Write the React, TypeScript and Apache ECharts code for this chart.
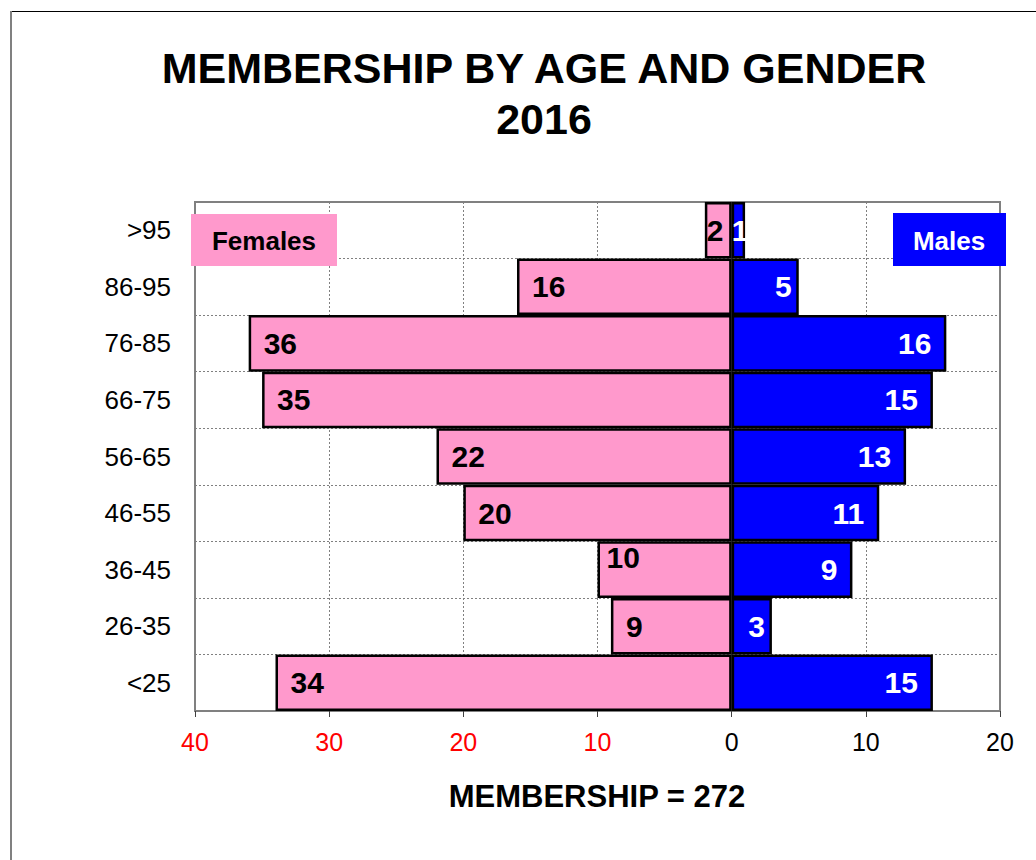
import React, { useEffect, useRef } from "react";
import * as echarts from "echarts";

const categories = [">95", "86-95", "76-85", "66-75", "56-65", "46-55", "36-45", "26-35", "<25"];
const females = [2, 16, 36, 35, 22, 20, 10, 9, 34];
const males = [1, 5, 16, 15, 13, 11, 9, 3, 15];
const xTicks = { min: -40, max: 20, interval: 10 };
const titleLines = ["MEMBERSHIP BY AGE AND GENDER", "2016"];
const footer = "MEMBERSHIP = 272";

const FONT = "'Liberation Sans', Arial, sans-serif";
const PINK = "#FF99CC";
const BLUE = "#0000FF";
const GRAY = "#808080";

const femaleLabelTweaks: Record<number, any> = {
  0: { distance: 2 },
  6: { distance: 9, offset: [0, -12] },
};
const maleLabelTweaks: Record<number, any> = {
  0: { position: "insideLeft", distance: 0 },
  1: { distance: 7 },
  7: { distance: 7 },
};

export default function App() {
  const ref = useRef<HTMLDivElement>(null);
  useEffect(() => {
    if (!ref.current) return;
    const chart = echarts.init(ref.current, null, { renderer: "svg" });
    const labelBase = {
      show: true,
      fontFamily: FONT,
      fontWeight: "bold",
      fontSize: 30,
      overflow: "none",
    };
    const centered = (text: string, x: number, y: number, size: number, fill = "#000", z = 100) => ({
      type: "text",
      x,
      y,
      z,
      style: {
        text,
        fontFamily: FONT,
        fontWeight: "bold",
        fontSize: size,
        fill,
        textAlign: "center",
        textVerticalAlign: "middle",
      },
    });
    chart.setOption({
      animation: false,
      backgroundColor: "#fff",
      grid: {
        left: 195,
        right: 36,
        top: 202,
        bottom: 149,
        show: true,
        borderColor: GRAY,
        borderWidth: 2,
        backgroundColor: "transparent",
      },
      xAxis: {
        type: "value",
        min: xTicks.min,
        max: xTicks.max,
        interval: xTicks.interval,
        axisLine: { show: true, lineStyle: { color: GRAY, width: 2 } },
        axisTick: { show: true, length: 6, lineStyle: { color: "#404040", width: 1 } },
        axisLabel: {
          margin: 18,
          fontFamily: FONT,
          fontSize: 25,
          formatter: (v: number) => (v < 0 ? `{r|${Math.abs(v)}}` : `{b|${v}}`),
          rich: {
            r: { color: "#FF0000", fontFamily: FONT, fontSize: 25 },
            b: { color: "#000000", fontFamily: FONT, fontSize: 25 },
          },
        },
        splitLine: { show: true, lineStyle: { color: GRAY, type: [2, 2], width: 1 } },
      },
      yAxis: {
        type: "category",
        data: categories,
        inverse: true,
        axisTick: { show: false },
        axisLine: { show: true, lineStyle: { color: GRAY, width: 2 } },
        axisLabel: { margin: 24, fontFamily: FONT, fontSize: 26, color: "#000" },
        splitLine: { show: true, lineStyle: { color: GRAY, type: [2, 2], width: 1 } },
      },
      series: [
        {
          name: "Females",
          type: "bar",
          stack: "total",
          barWidth: "100%",
          itemStyle: { color: PINK, borderColor: "#000", borderWidth: 2.5 },
          label: {
            ...labelBase,
            color: "#000",
            position: "insideLeft",
            distance: 15,
            formatter: (p: any) => String(Math.abs(p.value)),
          },
          data: females.map((v, i) => ({
            value: -v,
            label: femaleLabelTweaks[i],
          })),
        },
        {
          name: "Males",
          type: "bar",
          stack: "total",
          barWidth: "100%",
          itemStyle: { color: BLUE, borderColor: "#000", borderWidth: 2.5 },
          label: {
            ...labelBase,
            color: "#fff",
            position: "insideRight",
            distance: 15,
          },
          data: males.map((v, i) => ({
            value: v,
            label: maleLabelTweaks[i],
          })),
        },
      ],
      graphic: [
        {
          type: "line",
          shape: { x1: 11, y1: 11.5, x2: 1040, y2: 11.5 },
          style: { stroke: "#000", lineWidth: 1 },
          z: 100,
        },
        {
          type: "line",
          shape: { x1: 11, y1: 11, x2: 11, y2: 870 },
          style: { stroke: GRAY, lineWidth: 2 },
          z: 100,
        },
        centered(titleLines[0], 544, 68, 43),
        centered(titleLines[1], 544, 119, 43),
        centered(footer, 597, 796, 31),
        {
          type: "rect",
          shape: { x: 191, y: 214, width: 146, height: 52 },
          style: { fill: PINK },
          z: 100,
        },
        centered("Females", 264, 241, 26, "#000", 101),
        {
          type: "rect",
          shape: { x: 893, y: 213, width: 113, height: 53 },
          style: { fill: BLUE },
          z: 100,
        },
        centered("Males", 949, 241, 26, "#fff", 101),
      ],
    });
    return () => chart.dispose();
  }, []);
  return (
    <div
      ref={ref}
      style={{ position: "fixed", left: 0, top: 0, width: 1036, height: 860, background: "#fff" }}
    />
  );
}
